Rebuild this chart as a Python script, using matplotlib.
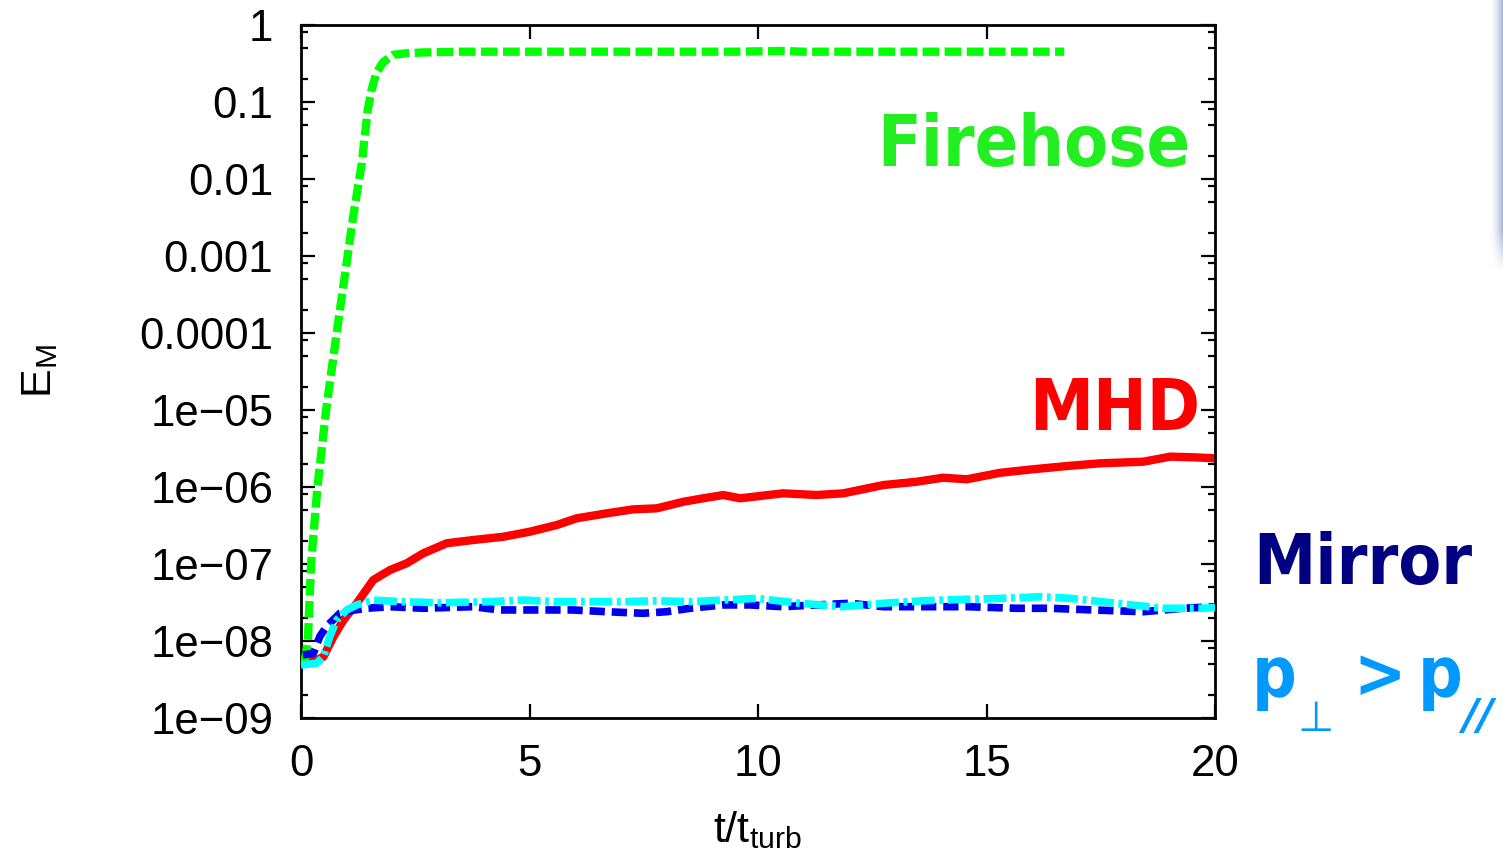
import numpy as np
import matplotlib
matplotlib.use('Agg')
import matplotlib.pyplot as plt
from matplotlib.ticker import FixedLocator, FixedFormatter, LogLocator, NullFormatter

# ---------------- data ----------------
t_fire = [0.08, 0.15, 0.22, 0.36, 0.55, 0.78, 1.02, 1.14, 1.33, 1.46, 1.54, 1.65,
          1.80, 2.02, 2.32, 2.67, 3.5, 5.0, 6.5, 8.0, 9.5, 10.5, 11.0, 12.5, 14.0,
          15.5, 16.7]
E_fire = [5.4e-9, 1.0e-8, 1.0e-7, 1.0e-6, 1.0e-5, 1.0e-4, 1.0e-3, 3.2e-3, 1.6e-2,
          7.9e-2, 0.14, 0.24, 0.33, 0.41, 0.43, 0.44, 0.45, 0.45, 0.45, 0.45, 0.45,
          0.46, 0.45, 0.45, 0.45, 0.45, 0.45]

t_mhd = [0.0, 0.31, 0.49, 0.71, 0.93, 1.22, 1.58, 1.95, 2.31, 2.68, 3.19, 3.77, 4.43,
         5.01, 5.60, 6.03, 6.69, 7.27, 7.78, 8.37, 8.80, 9.24, 9.61, 10.04, 10.55,
         11.28, 11.87, 12.74, 13.47, 14.05, 14.57, 15.30, 16.02, 16.75, 17.48, 18.43,
         19.02, 19.53, 20.0]
E_mhd = [5.33e-9, 5.5e-9, 6.25e-9, 1.14e-8, 1.87e-8, 3.09e-8, 6.19e-8, 8.36e-8,
         1.02e-7, 1.38e-7, 1.86e-7, 2.05e-7, 2.26e-7, 2.63e-7, 3.21e-7, 3.92e-7,
         4.55e-7, 5.13e-7, 5.28e-7, 6.44e-7, 7.13e-7, 7.87e-7, 7.13e-7, 7.64e-7,
         8.28e-7, 7.87e-7, 8.28e-7, 1.06e-6, 1.17e-6, 1.32e-6, 1.26e-6, 1.53e-6,
         1.70e-6, 1.87e-6, 2.03e-6, 2.13e-6, 2.48e-6, 2.43e-6, 2.36e-6]

t_mirror = [0.04, 0.27, 0.41, 0.56, 0.85, 1.14, 1.43, 1.95, 2.68, 3.76, 4.35, 5.23,
            5.95, 6.69, 7.48, 8.00, 8.51, 9.24, 9.83, 10.55, 11.28, 12.01, 12.74,
            13.61, 14.57, 15.66, 16.39, 17.33, 18.43, 19.3, 20.0]
E_mirror = [6.6e-9, 6.9e-9, 1.14e-8, 1.55e-8, 2.29e-8, 2.51e-8, 2.66e-8, 2.79e-8,
            2.66e-8, 2.79e-8, 2.53e-8, 2.53e-8, 2.53e-8, 2.40e-8, 2.29e-8, 2.40e-8,
            2.66e-8, 2.94e-8, 2.94e-8, 2.79e-8, 2.94e-8, 3.09e-8, 2.79e-8, 2.79e-8,
            2.79e-8, 2.66e-8, 2.66e-8, 2.53e-8, 2.40e-8, 2.66e-8, 2.79e-8]

t_pperp = [0.0, 0.34, 0.49, 0.63, 0.78, 1.0, 1.22, 1.58, 2.17, 3.04, 4.13, 4.86, 5.60,
           6.32, 7.05, 7.78, 8.51, 9.24, 9.97, 10.92, 11.86, 12.74, 13.61, 14.57,
           15.36, 16.17, 16.83, 17.85, 18.86, 19.75, 20.0]
E_pperp = [4.88e-9, 5.13e-9, 6.25e-9, 1.14e-8, 1.87e-8, 2.53e-8, 2.94e-8, 3.40e-8,
           3.24e-8, 3.14e-8, 3.24e-8, 3.40e-8, 3.24e-8, 3.24e-8, 3.24e-8, 3.33e-8,
           3.24e-8, 3.40e-8, 3.58e-8, 3.09e-8, 2.79e-8, 3.09e-8, 3.33e-8, 3.48e-8,
           3.58e-8, 3.76e-8, 3.58e-8, 3.09e-8, 2.66e-8, 2.66e-8, 2.74e-8]

x_ticks = [0, 5, 10, 15, 20]
x_tick_labels = ['0', '5', '10', '15', '20']
y_ticks = [1e-9, 1e-8, 1e-7, 1e-6, 1e-5, 1e-4, 1e-3, 1e-2, 1e-1, 1]
y_tick_labels = ['1e\u221209', '1e\u221208', '1e\u221207', '1e\u221206', '1e\u221205',
                 '0.0001', '0.001', '0.01', '0.1', '1']

# ---------------- figure ----------------
plt.rcParams['font.family'] = ['Liberation Sans', 'DejaVu Sans']
plt.rcParams['mathtext.fontset'] = 'custom'
plt.rcParams['mathtext.rm'] = 'Liberation Sans'

W, H = 1503, 857
fig = plt.figure(figsize=(W / 100, H / 100), dpi=100)
ax = fig.add_axes([301 / W, 1 - 718 / H, (1215 - 301) / W, (718 - 25) / H])
ax.set_yscale('log')
ax.set_xlim(0, 20)
ax.set_ylim(1e-9, 1)

ax.plot(t_mhd, E_mhd, color='#ff0000', lw=6, zorder=2)
ax.plot(t_fire, E_fire, color='#00ff00', lw=6, dashes=(2.0, 0.65), zorder=3)
ax.plot(t_mirror, E_mirror, color='#0000ee', lw=5.5, dashes=(2.0, 0.9), zorder=4)
ax.plot(t_pperp, E_pperp, color='#00ffff', lw=5.5, dashes=(3.0, 0.6, 0.5, 0.6), zorder=5)

ax.xaxis.set_major_locator(FixedLocator(x_ticks))
ax.xaxis.set_major_formatter(FixedFormatter(x_tick_labels))
ax.yaxis.set_major_locator(FixedLocator(y_ticks))
ax.yaxis.set_major_formatter(FixedFormatter(y_tick_labels))
ax.yaxis.set_minor_locator(LogLocator(base=10, subs=(2, 5, 8), numticks=30))
ax.yaxis.set_minor_formatter(NullFormatter())
ax.xaxis.set_minor_locator(FixedLocator([]))

for s in ax.spines.values():
    s.set_linewidth(2.0)
ax.tick_params(axis='both', which='major', direction='in', length=10, width=1.6,
               top=True, right=True, labelsize=31.5)
ax.tick_params(axis='both', which='minor', direction='in', length=5, width=1.6,
               top=True, right=True)
ax.tick_params(axis='x', which='major', pad=19)
ax.tick_params(axis='y', which='major', pad=20)

fig.text(757 / W, 1 - 842 / H, r't/t$_{\mathregular{turb}}$', ha='center',
         va='baseline', fontsize=31)
fig.text(40 / W, 1 - 371 / H, r'E$_{\mathregular{M}}$', rotation=90, ha='center',
         va='center', fontsize=31)

lab = dict(family='DejaVu Sans', weight='bold', fontstretch='condensed')
fig.text(877 / W, 1 - 166 / H, 'Firehose', color='#22ee22', fontsize=51.5,
         ha='left', va='baseline', **lab)
fig.text(1029 / W, 1 - 430 / H, 'MHD', color='#ff0000', fontsize=51.5,
         ha='left', va='baseline', **lab)
fig.text(1253 / W, 1 - 584 / H, 'Mirror', color='#000080', fontsize=50,
         ha='left', va='baseline', **lab)
pc = '#0099ff'
fig.text(1252 / W, 1 - 697 / H, 'p', color=pc, fontsize=50, ha='left',
         va='baseline', **lab)
fig.text(1297 / W, 1 - 731 / H, '\u22a5', color=pc, fontsize=30, ha='left',
         va='baseline', family='DejaVu Sans')
fig.text(1353 / W, 1 - 697 / H, '>', color=pc, fontsize=50, ha='left',
         va='baseline', **lab)
fig.text(1418 / W, 1 - 697 / H, 'p', color=pc, fontsize=50, ha='left',
         va='baseline', **lab)
fig.text(1462 / W, 1 - 729 / H, '//', color=pc, fontsize=31, ha='left',
         va='baseline', family='DejaVu Sans', weight='bold', style='italic')

# faint bluish strip at the right edge of the slide
sax = fig.add_axes([1488 / W, 1 - 270 / H, 15 / W, 270 / H])
sax.axis('off')
gx = np.linspace(0, 1, 15) ** 2
gy = np.clip((270 - np.arange(270)) / 40.0, 0, 1)
rgba = np.zeros((270, 15, 4))
rgba[..., 0] = 0.58
rgba[..., 1] = 0.64
rgba[..., 2] = 0.84
rgba[..., 3] = 0.8 * gy[:, None] * gx[None, :]
sax.imshow(rgba, aspect='auto', interpolation='bilinear')

fig.savefig('out.png', dpi=100)
